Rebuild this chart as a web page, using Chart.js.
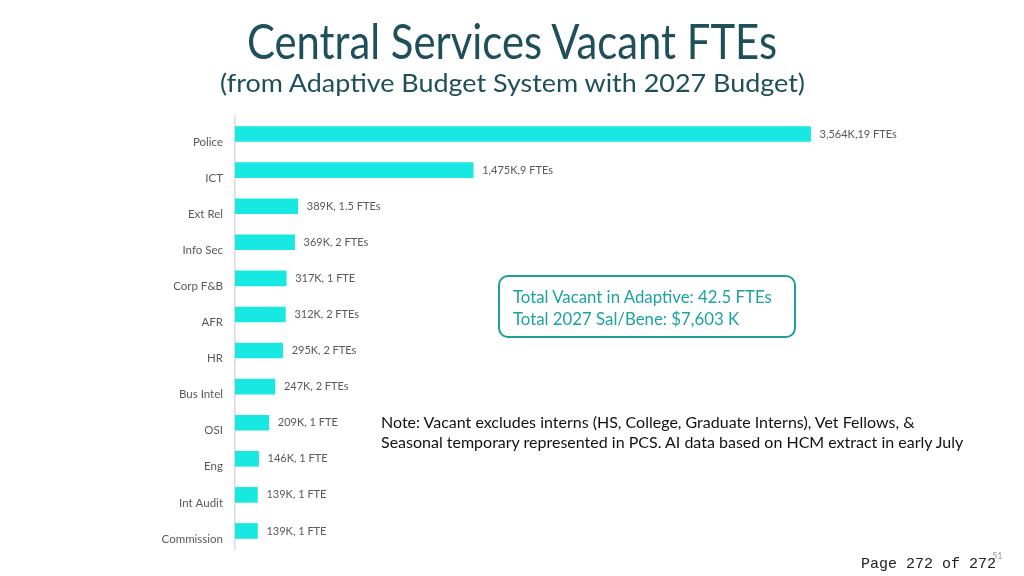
<!DOCTYPE html>
<html>
<head>
<meta charset="utf-8">
<script src="https://cdn.jsdelivr.net/npm/chart.js@4.4.1/dist/chart.umd.min.js"></script>
<style>
  html, body { margin: 0; padding: 0; background: #fff; }
  #wrap { position: relative; width: 1024px; height: 576px; overflow: hidden; font-family: Lato, sans-serif; }
  #chart-area { position: absolute; left: 0; top: 0; }
  .fit { position: absolute; white-space: nowrap; transform-origin: 0 0; line-height: 1; }
  #title { color: #1e4f5b; font-size: 48px; top: 17px; }
  #subtitle { color: #1e4f5b; font-size: 25px; top: 70px; }
  #box { position: absolute; left: 498px; top: 275px; width: 294px; height: 59px; border: 2.5px solid #1b9f9c; border-radius: 10px; }
  #box div { position: absolute; left: 13px; color: #1ba3a2; font-size: 16.8px; white-space: nowrap; }
  #note { position: absolute; left: 381px; top: 412px; font-size: 16px; line-height: 20px; color: #111; white-space: nowrap; }
  #page { position: absolute; left: 861px; top: 556px; font-family: "Liberation Mono", monospace; font-size: 15px; color: #222; }
  #slide { position: absolute; left: 992px; top: 550px; font-size: 9px; color: #999; }
</style>
</head>
<body>
<div id="wrap">
  <canvas id="chart-area" width="1024" height="576"></canvas>
  <div id="title" class="fit">Central Services Vacant FTEs</div>
  <div id="subtitle" class="fit">(from Adaptive Budget System with 2027 Budget)</div>
  <div id="box">
    <div style="top:9px">Total Vacant in Adaptive: 42.5 FTEs</div>
    <div style="top:31px">Total 2027 Sal/Bene: $7,603 K</div>
  </div>
  <div id="note">Note: Vacant excludes interns (HS, College, Graduate Interns), Vet Fellows, &amp;<br>Seasonal temporary represented in PCS. AI data based on HCM extract in early July</div>
  <div id="slide">51</div>
  <div id="page">Page 272 of 272</div>
</div>
<script>
var categories = ['Police', 'ICT', 'Ext Rel', 'Info Sec', 'Corp F&B', 'AFR', 'HR', 'Bus Intel', 'OSI', 'Eng', 'Int Audit', 'Commission'];
var costK = [3564, 1475, 389, 369, 317, 312, 295, 247, 209, 146, 139, 139];
var barLabels = ['3,564K,19 FTEs', '1,475K,9 FTEs', '389K, 1.5 FTEs', '369K, 2 FTEs', '317K, 1 FTE', '312K, 2 FTEs',
                 '295K, 2 FTEs', '247K, 2 FTEs', '209K, 1 FTE', '146K, 1 FTE', '139K, 1 FTE', '139K, 1 FTE'];

// squeeze the heading lines to the width they have on the slide
function fitLine(id, width) {
    var el = document.getElementById(id);
    var w = el.getBoundingClientRect().width;
    el.style.left = (512 - width / 2) + 'px';
    el.style.transform = 'scaleX(' + (width / w) + ')';
}
fitLine('title', 530);
fitLine('subtitle', 585);

var barText = {
    id: 'barText',
    afterDatasetsDraw: function(chart) {
        var ctx = chart.ctx;
        ctx.save();
        ctx.font = '11px Lato';
        ctx.fillStyle = '#595959';
        ctx.textBaseline = 'middle';
        chart.getDatasetMeta(0).data.forEach(function(bar, i) {
            ctx.fillText(barLabels[i], bar.x + 9, bar.y);
        });
        ctx.restore();
    }
};

var config = {
    type: 'bar',
    data: {
        labels: categories,
        datasets: [{
            data: costK,
            backgroundColor: '#18e8e2',
            barThickness: 15
        }]
    },
    options: {
        indexAxis: 'y',
        responsive: false,
        animation: false,
        layout: {
            padding: { left: 0, right: 143, top: 116, bottom: 27 }
        },
        plugins: {
            legend: { display: false },
            tooltip: { enabled: false }
        },
        scales: {
            x: {
                display: false,
                min: 0,
                max: 4000
            },
            y: {
                grid: { display: false },
                border: { display: true, color: '#d9d9d9', width: 1.5 },
                ticks: {
                    color: '#595959',
                    font: { family: 'Lato', size: 11.5 },
                    padding: 4,
                    labelOffset: 8
                },
                afterFit: function(scale) { scale.width = 235; }
            }
        }
    },
    plugins: [barText]
};

window.onload = function() {
    var ctx = document.getElementById('chart-area').getContext('2d');
    window.myBar = new Chart(ctx, config);
};
</script>
</body>
</html>
